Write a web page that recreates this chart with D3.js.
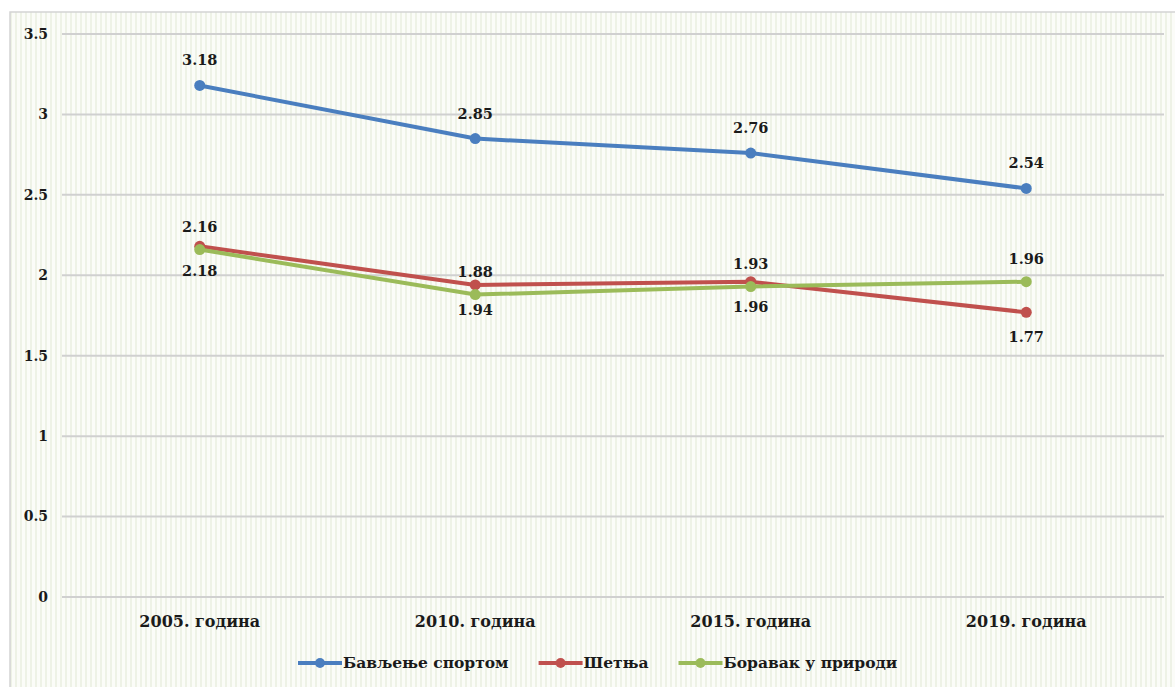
<!DOCTYPE html>
<html>
<head>
<meta charset="utf-8">
<script src="https://cdn.jsdelivr.net/npm/d3@7"></script>
<style>
  body { margin: 0; background: #fff; }
  svg text { font-family: "DejaVu Serif"; font-weight: 700; }
</style>
</head>
<body>
<script>
const categories = ["2005. година", "2010. година", "2015. година", "2019. година"];
const sportValues = [3.18, 2.85, 2.76, 2.54];
const walkValues = [2.18, 1.94, 1.96, 1.77];
const natureValues = [2.16, 1.88, 1.93, 1.96];
const seriesNames = ["Бављење спортом", "Шетња", "Боравак у природи"];
const yTicks = [0, 0.5, 1, 1.5, 2, 2.5, 3, 3.5];

const width = 1175, height = 687;
const margin = { top: 34, left: 62, right: 11, bottom: 90 };

const svg = d3.select("body").append("svg")
    .attr("width", width)
    .attr("height", height);

// striped background
const defs = svg.append("defs");
const pat = defs.append("pattern")
    .attr("id", "stripes")
    .attr("width", 5)
    .attr("height", 10)
    .attr("patternUnits", "userSpaceOnUse");
pat.append("rect").attr("width", 5).attr("height", 10).attr("fill", "#fbfcf8");
pat.append("rect").attr("x", 0).attr("width", 2).attr("height", 10).attr("fill", "#eef2e6");

svg.append("rect")
    .attr("x", 10).attr("y", 12)
    .attr("width", width).attr("height", height)
    .attr("fill", "url(#stripes)")
    .attr("stroke", "#d4d4d4")
    .attr("stroke-width", 1.5);

const x = d3.scaleBand()
    .domain(categories)
    .range([margin.left, width - margin.right]);

const y = d3.scaleLinear()
    .domain([0, 3.5])
    .range([597, margin.top]);

// gridlines
svg.append("g")
    .selectAll("line")
    .data(yTicks)
    .enter()
    .append("line")
    .attr("x1", margin.left)
    .attr("x2", width - margin.right)
    .attr("y1", d => y(d))
    .attr("y2", d => y(d))
    .attr("stroke", "#d0d0d0")
    .attr("stroke-width", 2);

// y tick labels
svg.append("g")
    .selectAll("text")
    .data(yTicks)
    .enter()
    .append("text")
    .attr("x", 48)
    .attr("y", d => y(d))
    .attr("dy", "0.35em")
    .attr("text-anchor", "end")
    .attr("fill", "#1a1a1a")
    .style("font-size", "14px")
    .text(d => d);

// x labels
svg.append("g")
    .selectAll("text")
    .data(categories)
    .enter()
    .append("text")
    .attr("x", d => x(d) + x.bandwidth() / 2)
    .attr("y", 627)
    .attr("text-anchor", "middle")
    .attr("fill", "#1a1a1a")
    .style("font-size", "16px")
    .text(d => d);

const series = [
    { name: seriesNames[0], values: sportValues, color: "#4a7ebf", labelDy: -20 },
    { name: seriesNames[1], values: walkValues, color: "#c0504d", labelDy: 30 },
    { name: seriesNames[2], values: natureValues, color: "#9bbb59", labelDy: -18 }
];

const line = d3.line()
    .x((d, i) => x(categories[i]) + x.bandwidth() / 2)
    .y(d => y(d));

// draw red first, then green, then blue
[series[1], series[2], series[0]].forEach(s => {
    const g = svg.append("g");
    g.append("path")
        .attr("d", line(s.values))
        .attr("fill", "none")
        .attr("stroke", s.color)
        .attr("stroke-width", 4)
        .attr("stroke-linejoin", "round");
    g.selectAll("circle")
        .data(s.values)
        .enter()
        .append("circle")
        .attr("cx", (d, i) => x(categories[i]) + x.bandwidth() / 2)
        .attr("cy", d => y(d))
        .attr("r", 5.5)
        .attr("fill", s.color);
});

// data labels
series.forEach(s => {
    svg.append("g")
        .selectAll("text")
        .data(s.values)
        .enter()
        .append("text")
        .attr("x", (d, i) => x(categories[i]) + x.bandwidth() / 2)
        .attr("y", d => y(d) + s.labelDy)
        .attr("text-anchor", "middle")
        .attr("fill", "#1a1a1a")
        .style("font-size", "14.5px")
        .text(d => d.toFixed(2));
});

// legend, laid out from measured text widths
const legendG = svg.append("g").attr("id", "legend");
const items = legendG.selectAll("g")
    .data(series)
    .enter()
    .append("g");
items.append("line")
    .attr("x1", 0).attr("x2", 44)
    .attr("stroke", d => d.color)
    .attr("stroke-width", 4);
items.append("circle")
    .attr("cx", 22).attr("r", 5)
    .attr("fill", d => d.color);
items.append("text")
    .attr("x", 45)
    .attr("dy", "0.35em")
    .attr("fill", "#1a1a1a")
    .style("font-size", "15.5px")
    .text(d => d.name);

let cursor = 0;
const itemGap = 30;
items.each(function() {
    const w = 45 + d3.select(this).select("text").node().getComputedTextLength();
    d3.select(this).attr("transform", "translate(" + cursor + ",0)");
    cursor += w + itemGap;
});
legendG.attr("transform", "translate(298,663)");
</script>
</body>
</html>
